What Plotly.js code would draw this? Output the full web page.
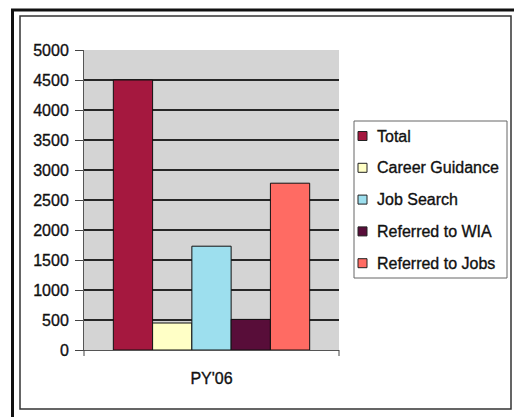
<!DOCTYPE html>
<html>
<head>
<meta charset="utf-8">
<script src="https://cdn.plot.ly/plotly-3.0.1.min.js"></script>
<style>
  html, body { margin: 0; padding: 0; background: #ffffff; }
  #chart { width: 514px; height: 417px; }
  /* slightly heavier ink for all chart text */
  #chart text { stroke: #111; stroke-width: 0.35px; }
</style>
</head>
<body>
<div id="chart"></div>
<script>
// Program year and the five service counts
const categories = ["PY'06"];
const seriesNames = ["Total", "Career Guidance", "Job Search", "Referred to WIA", "Referred to Jobs"];
const seriesValues = [4500, 450, 1730, 510, 2780];
const seriesColors = ["#a5183f", "#ffffc6", "#9ddfee", "#580d39", "#ff6b63"];
const yTicks = [0, 500, 1000, 1500, 2000, 2500, 3000, 3500, 4000, 4500, 5000];

const W = 514, H = 417;
const M = { l: 84, r: 175, t: 50, b: 67 };
const plotW = W - M.l - M.r, plotH = H - M.t - M.b;
// pixel -> paper coordinates
const px = v => (v - M.l) / plotW;
const py = v => (H - M.b - v) / plotH;

const FONT = "Liberation Sans, Arial, sans-serif";

const traces = seriesNames.map((name, i) => ({
  type: 'bar',
  name: name,
  x: categories,
  y: [seriesValues[i]],
  marker: { color: seriesColors[i], line: { color: '#111', width: 1 } },
  hoverinfo: 'name+y'
}));

const shapes = [
  // outer heavy frame
  { type: 'rect', xref: 'paper', yref: 'paper', x0: px(12.5), x1: px(540), y0: py(10), y1: py(440),
    line: { color: '#111', width: 3 } },
  // inner frame
  { type: 'rect', xref: 'paper', yref: 'paper', x0: px(20), x1: px(511), y0: py(16), y1: py(409),
    line: { color: '#333', width: 1.5 } },
  // category boundary ticks on the x axis
  { type: 'line', xref: 'paper', yref: 'paper', x0: 0, x1: 0, y0: 0, y1: py(356),
    line: { color: '#444', width: 1 } },
  { type: 'line', xref: 'paper', yref: 'paper', x0: 1, x1: 1, y0: 0, y1: py(356),
    line: { color: '#444', width: 1 } },
  // legend box
  { type: 'rect', xref: 'paper', yref: 'paper', x0: px(354), x1: px(507), y0: py(121), y1: py(278),
    line: { color: '#666', width: 1 }, fillcolor: '#ffffff' }
];

const annotations = [];
const legendTop = 136, legendStep = 31.8, sw = 9;
seriesNames.forEach((name, i) => {
  const cy = legendTop + i * legendStep;
  shapes.push({ type: 'rect', xref: 'paper', yref: 'paper',
    x0: px(358), x1: px(358 + sw), y0: py(cy - sw / 2), y1: py(cy + sw / 2),
    line: { color: '#222', width: 1 }, fillcolor: seriesColors[i] });
  annotations.push({ xref: 'paper', yref: 'paper', x: px(375), y: py(cy),
    xanchor: 'left', yanchor: 'middle', showarrow: false, text: name,
    font: { family: FONT, size: 16, color: '#111' } });
});

const layout = {
  width: W, height: H,
  margin: M,
  paper_bgcolor: '#ffffff',
  plot_bgcolor: '#d4d4d4',
  font: { family: FONT, size: 16, color: '#111' },
  showlegend: false,
  barmode: 'group',
  bargap: 0.23,
  bargroupgap: 0,
  xaxis: {
    type: 'category',
    showgrid: false,
    zeroline: false,
    showline: true, linecolor: '#555', linewidth: 1,
    ticks: '',
    ticklabelstandoff: 14,
    tickfont: { family: FONT, size: 16, color: '#111' }
  },
  yaxis: {
    range: [0, 5000],
    tickvals: yTicks,
    ticktext: yTicks.map(String),
    showgrid: true, gridcolor: '#262626', gridwidth: 1.2,
    zeroline: false,
    showline: true, linecolor: '#555', linewidth: 1,
    ticks: 'outside', ticklen: 8, tickcolor: '#444',
    ticklabelstandoff: 3,
    tickfont: { family: FONT, size: 16, color: '#111' }
  },
  shapes: shapes,
  annotations: annotations
};

Plotly.newPlot('chart', traces, layout, { displayModeBar: false, staticPlot: true });
</script>
</body>
</html>
